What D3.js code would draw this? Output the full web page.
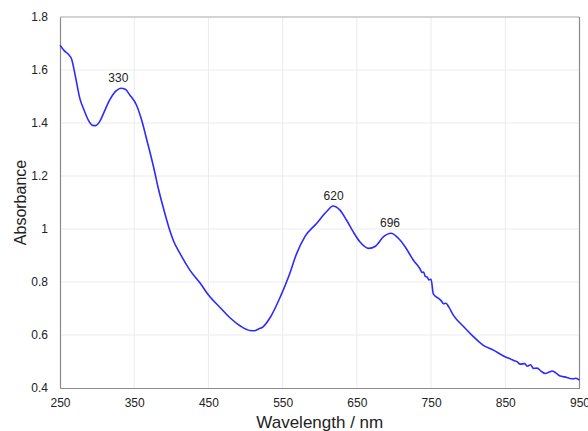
<!DOCTYPE html>
<html><head><meta charset="utf-8">
<script src="https://cdn.jsdelivr.net/npm/d3@7"></script>
<style>
html,body{margin:0;padding:0;background:#fff;}
svg{display:block;font-family:"Liberation Sans",Arial,sans-serif;}
</style></head>
<body><svg id="c" width="588" height="431"></svg>
<script>
const wavelength = [250,256,261,266,271,277,282,288,294,298,304,310,317,326,332,338,344,353,360,367,376,383,390,397,403,412,425,439,450,466,479,493,506,512,517,524,533,547,558,569,580,596,609,618,627,636,645,654,666,675,686,696,706,715,726,735,738,740,742,745,747,750,753,760,764,767,770,774,780,794,807,820,834,847,858,862,866,870,876,880,884,888,893,898,904,909,913,918,924,930,937,942,945,950];
const absorbance = [1.694,1.672,1.660,1.638,1.572,1.490,1.452,1.412,1.391,1.390,1.408,1.445,1.487,1.522,1.531,1.527,1.506,1.468,1.411,1.336,1.235,1.147,1.072,1.003,0.955,0.906,0.845,0.795,0.751,0.703,0.665,0.634,0.617,0.616,0.622,0.632,0.665,0.745,0.820,0.908,0.971,1.022,1.065,1.087,1.072,1.034,0.990,0.952,0.927,0.935,0.971,0.984,0.965,0.933,0.883,0.850,0.836,0.838,0.822,0.818,0.808,0.810,0.755,0.738,0.728,0.718,0.720,0.705,0.675,0.631,0.594,0.562,0.543,0.522,0.508,0.503,0.499,0.490,0.492,0.482,0.488,0.474,0.475,0.464,0.455,0.460,0.464,0.457,0.445,0.442,0.436,0.435,0.437,0.430];
const peakLabels = ["330","620","696"];
const peakX = [330,620,696];
const peakY = [1.531,1.087,0.984];
const xTicks = [250,350,450,550,650,750,850,950];
const yTicks = [0.4,0.6,0.8,1,1.2,1.4,1.6,1.8];

const svg = d3.select("#c");
const L=60, R=579.5, T=17, B=388;
const x = d3.scaleLinear().domain([250,950]).range([L,R]);
const y = d3.scaleLinear().domain([0.4,1.8]).range([B,T]);

// grid
svg.append("g").selectAll("line").data(xTicks.slice(1,-1)).join("line")
  .attr("x1",d=>x(d)).attr("x2",d=>x(d)).attr("y1",T).attr("y2",B)
  .attr("stroke","#ebebeb").attr("stroke-width",1);
svg.append("g").selectAll("line").data(yTicks.slice(1,-1)).join("line")
  .attr("x1",L).attr("x2",R).attr("y1",d=>y(d)).attr("y2",d=>y(d))
  .attr("stroke","#ebebeb").attr("stroke-width",1);

// frame
svg.append("line").attr("x1",L).attr("x2",R).attr("y1",T).attr("y2",T).attr("stroke","#c4c4c4").attr("stroke-width",1.5);
svg.append("line").attr("x1",R).attr("x2",R).attr("y1",T).attr("y2",B).attr("stroke","#8a8a8a").attr("stroke-width",1.2);

// axes
const xa = svg.append("g").attr("transform",`translate(0,${B})`)
  .call(d3.axisBottom(x).tickValues(xTicks).tickSize(0).tickPadding(10.5).tickFormat(d3.format("d")));
const ya = svg.append("g").attr("transform",`translate(${L},0)`)
  .call(d3.axisLeft(y).tickValues(yTicks).tickSize(0).tickPadding(12).tickFormat(d=>String(+d.toFixed(1))));
[xa,ya].forEach(a=>{
  a.select(".domain").attr("stroke","#8a8a8a").attr("stroke-width",1.2);
  a.selectAll("text").attr("font-size","12px").attr("fill","#222").attr("font-family","Liberation Sans, Arial, sans-serif");
});

// curve
const pts = wavelength.map((w,i)=>[w,absorbance[i]]);
svg.append("path").datum(pts)
  .attr("d", d3.line().x(d=>x(d[0])).y(d=>y(d[1])).curve(d3.curveMonotoneX))
  .attr("fill","none").attr("stroke","#2b2bff").attr("stroke-width",1.6);

// peak labels
svg.append("g").selectAll("text").data(peakLabels).join("text")
  .attr("x",(d,i)=>x(peakX[i])-1).attr("y",(d,i)=>y(peakY[i])-6)
  .attr("text-anchor","middle").attr("font-size","12px").attr("fill","#222")
  .text(d=>d);

// axis titles
svg.append("text").attr("x",(L+R)/2).attr("y",428).attr("text-anchor","middle")
  .attr("font-size","17px").attr("fill","#222").text("Wavelength / nm");
svg.append("text").attr("transform",`translate(26,${(T+B)/2}) rotate(-90)`).attr("text-anchor","middle")
  .attr("font-size","16px").attr("fill","#222").text("Absorbance");
</script></body></html>
